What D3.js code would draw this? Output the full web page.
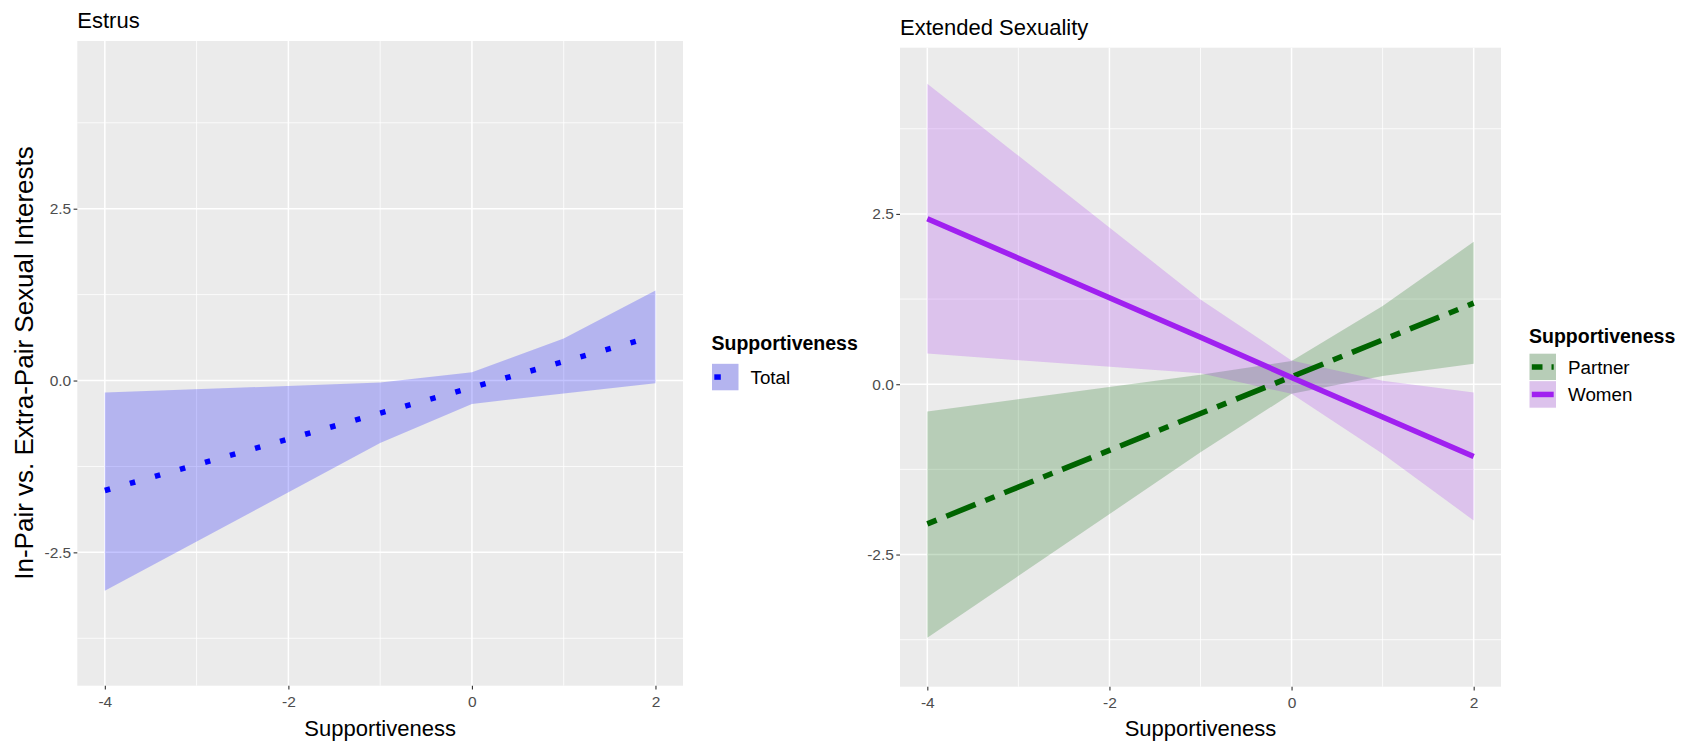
<!DOCTYPE html>
<html>
<head>
<meta charset="utf-8">
<script src="https://cdn.jsdelivr.net/npm/d3@7/dist/d3.min.js"></script>
<style>
  body { margin: 0; background: #ffffff; }
  text { font-family: "Liberation Sans", Arial, sans-serif; }
</style>
</head>
<body>
<div id="chart"></div>
<script>
// DATA
// ------------------------------------------------------------------

// Estrus panel: predicted line and its band
var estrusX = [-4, -1, 0, 1, 2],
    estrusFit = [-1.60, -0.475, -0.10, 0.275, 0.65],
    estrusLow = [-3.06, -0.91, -0.34, -0.19, -0.04],
    estrusHigh = [-0.175, -0.03, 0.12, 0.61, 1.31];

// Extended Sexuality panel
var extendedX = [-4, -1, 0, 1, 2],
    partnerFit = [-2.05, -0.43, 0.11, 0.65, 1.19],
    partnerLow = [-3.72, -1.00, -0.14, 0.12, 0.30],
    partnerHigh = [-0.40, 0.14, 0.34, 1.15, 2.09],
    womenFit = [2.43, 0.69, 0.10, -0.48, -1.06],
    womenLow = [0.45, 0.16, -0.14, -1.02, -2.00],
    womenHigh = [4.41, 1.245, 0.35, 0.05, -0.12];

var xTicks = [-4, -2, 0, 2],
    xMinor = [-3, -1, 1],
    yTicks = [-2.5, 0, 2.5],
    yMinor = [-3.75, -1.25, 1.25, 3.75],
    xDomain = [-4.3, 2.3],
    yDomain = [-4.44, 4.94];

// CANVAS
// ------------------------------------------------------------------

var width = 1690,
    height = 742;

var svg = d3.select("#chart")
    .append("svg")
    .attr("width", width)
    .attr("height", height);

// PANELS
// ------------------------------------------------------------------

function zip(xs, fit, low, high) {
  return xs.map(function(x, i) {
    return { x: x, fit: fit[i], low: low[i], high: high[i] };
  });
}

function drawPanel(p) {
  var xScale = d3.scaleLinear().domain(xDomain).range([p.left, p.right]),
      yScale = d3.scaleLinear().domain(yDomain).range([p.bottom, p.top]);

  var g = svg.append("g");

  g.append("rect")
      .attr("x", p.left)
      .attr("y", p.top)
      .attr("width", p.right - p.left)
      .attr("height", p.bottom - p.top)
      .attr("fill", "#ebebeb");

  // grid
  g.selectAll(".vminor").data(xMinor).enter().append("line")
      .attr("x1", xScale).attr("x2", xScale)
      .attr("y1", p.top).attr("y2", p.bottom)
      .attr("stroke", "#ffffff").attr("stroke-width", 0.8);
  g.selectAll(".hminor").data(yMinor).enter().append("line")
      .attr("y1", yScale).attr("y2", yScale)
      .attr("x1", p.left).attr("x2", p.right)
      .attr("stroke", "#ffffff").attr("stroke-width", 0.8);
  g.selectAll(".vmajor").data(xTicks).enter().append("line")
      .attr("x1", xScale).attr("x2", xScale)
      .attr("y1", p.top).attr("y2", p.bottom)
      .attr("stroke", "#ffffff").attr("stroke-width", 1.5);
  g.selectAll(".hmajor").data(yTicks).enter().append("line")
      .attr("y1", yScale).attr("y2", yScale)
      .attr("x1", p.left).attr("x2", p.right)
      .attr("stroke", "#ffffff").attr("stroke-width", 1.5);

  var band = d3.area()
      .x(function(d) { return xScale(d.x); })
      .y0(function(d) { return yScale(d.low); })
      .y1(function(d) { return yScale(d.high); });

  var line = d3.line()
      .x(function(d) { return xScale(d.x); })
      .y(function(d) { return yScale(d.fit); });

  p.series.forEach(function(s) {
    g.append("path")
        .attr("d", band(s.data))
        .attr("fill", s.color)
        .attr("fill-opacity", s.alpha);
  });

  p.series.forEach(function(s) {
    g.append("path")
        .attr("d", line(s.data))
        .attr("fill", "none")
        .attr("stroke", s.color)
        .attr("stroke-width", 5.5)
        .attr("stroke-dasharray", s.dash);
  });

  // axes
  var xAxis = g.append("g")
      .attr("transform", "translate(0," + p.bottom + ")")
      .call(d3.axisBottom(xScale).tickValues(xTicks).tickSize(3.7).tickPadding(7)
        .tickFormat(d3.format("d")));
  var yAxis = g.append("g")
      .attr("transform", "translate(" + p.left + ",0)")
      .call(d3.axisLeft(yScale).tickValues(yTicks).tickSize(3.7).tickPadding(2.4)
        .tickFormat(d3.format(".1f")));

  [xAxis, yAxis].forEach(function(a) {
    a.select(".domain").remove();
    a.selectAll(".tick line").attr("stroke", "#333333").attr("stroke-width", 1.1);
    a.selectAll(".tick text")
        .attr("fill", "#4d4d4d")
        .style("font-size", "15.5px")
        .style("font-family", "'Liberation Sans', Arial, sans-serif");
  });
  // ggplot prints minus with hyphen
  g.selectAll(".tick text").text(function() { return this.textContent.replace("\u2212", "-"); });

  // titles
  svg.append("text")
      .attr("x", p.left)
      .attr("y", p.titleY)
      .style("font-size", "22px")
      .text(p.title);

  svg.append("text")
      .attr("x", (p.left + p.right) / 2)
      .attr("y", 735.5)
      .attr("text-anchor", "middle")
      .style("font-size", "22px")
      .text("Supportiveness");

  return { x: xScale, y: yScale };
}

var estrusSeries = [
  { name: "Total", data: zip(estrusX, estrusFit, estrusLow, estrusHigh),
    color: "#0000ff", alpha: 0.23, dash: "5.5 20.5" }
];

var extendedSeries = [
  { name: "Partner", data: zip(extendedX, partnerFit, partnerLow, partnerHigh),
    color: "#006400", alpha: 0.22, dash: "10 10.5 31.5 10.5" },
  { name: "Women", data: zip(extendedX, womenFit, womenLow, womenHigh),
    color: "#a020f0", alpha: 0.2, dash: null }
];

drawPanel({ left: 77.3, right: 683, top: 41, bottom: 685.7,
            title: "Estrus", titleY: 28.3, series: estrusSeries });
drawPanel({ left: 900, right: 1501, top: 47.7, bottom: 686.7,
            title: "Extended Sexuality", titleY: 35, series: extendedSeries });

// y axis title
svg.append("text")
    .attr("transform", "translate(33,363) rotate(-90)")
    .attr("text-anchor", "middle")
    .style("font-size", "26px")
    .text("In-Pair vs. Extra-Pair Sexual Interests");

// LEGENDS
// ------------------------------------------------------------------

function drawLegend(x, titleY, keyTop, series, keyDash) {
  var key = 27.5;
  svg.append("text")
      .attr("x", x)
      .attr("y", titleY)
      .style("font-size", "19.5px")
      .style("font-weight", "bold")
      .text("Supportiveness");

  series.forEach(function(s, i) {
    var ky = keyTop + i * key;
    svg.append("rect")
        .attr("x", x).attr("y", ky)
        .attr("width", key).attr("height", key)
        .attr("fill", "#ebebeb")
        .attr("stroke", "#ffffff").attr("stroke-width", 1);
    svg.append("rect")
        .attr("x", x + 0.5).attr("y", ky + 0.5)
        .attr("width", key - 1).attr("height", key - 1)
        .attr("fill", s.color)
        .attr("fill-opacity", s.alpha);
    svg.append("line")
        .attr("x1", x + 2.8).attr("x2", x + key - 2.8)
        .attr("y1", ky + key / 2).attr("y2", ky + key / 2)
        .attr("stroke", s.color)
        .attr("stroke-width", 5.5)
        .attr("stroke-dasharray", keyDash[i]);
    svg.append("text")
        .attr("x", x + key + 11.5)
        .attr("y", ky + key / 2 + 6.8)
        .style("font-size", "18.8px")
        .text(s.name);
  });
}

drawLegend(711.5, 350, 363.3, estrusSeries, ["6.5 40"]);
drawLegend(1529, 342.7, 353.2, extendedSeries, ["10.7 9 2.6 40", null]);
</script>
</body>
</html>
